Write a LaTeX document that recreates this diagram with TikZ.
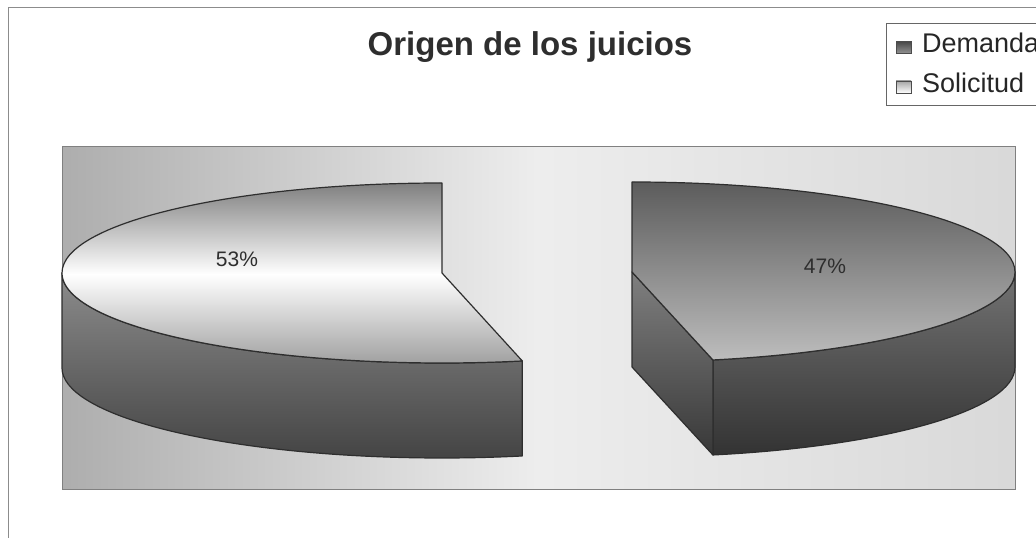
\documentclass[tikz,border=0pt]{standalone}
\usepackage{fontspec}
\setmainfont{Liberation Sans}
\usetikzlibrary{positioning}

\begin{document}
\begin{tikzpicture}[
		x=1pt, y=1pt,
		edge/.style={draw=black!82, line width=1.2pt, line join=round},
		frame/.style={draw=black!45, line width=1pt},
		pct/.style={font=\fontsize{21}{21}\selectfont, text=black!82, inner sep=0pt, anchor=base},
		lgd/.style={font=\fontsize{27}{27}\selectfont, text=black!85, inner sep=0pt, anchor=base west},
		keybox/.style={draw=black!70, line width=0.8pt, minimum width=15pt, minimum height=12pt, inner sep=0pt}
	]
	\useasboundingbox (0,0) rectangle (1036,538);
	\draw[frame] (8,-20) |- (1060,530);
	\node[font=\bfseries\fontsize{33}{33}\selectfont, text=black!82, inner sep=0pt, anchor=base] (title) at (530,482) {Origen de los juicios};

	\path[draw=black!50, line width=1pt, left color=black!32, right color=black!15, middle color=black!7] (62,48) rectangle (1015,391);

	\coordinate (c1) at (442,265);
	\coordinate (c2) at (632,266);

	\path[edge, top color=black!45, bottom color=black!74] (c1) ++(180:380 and 90)
		arc[start angle=180, end angle=282.2, x radius=380, y radius=90] -- ++(0,-95)
		arc[start angle=282.2, end angle=180, x radius=380, y radius=90] -- cycle;
	\path[edge, top color=black!50, bottom color=black!38, middle color=white] (c1) -- ++(90:380 and 90)
		arc[start angle=90, end angle=282.2, x radius=380, y radius=90] -- cycle;

	\path[edge, top color=black!55, bottom color=black!80] (c2) ++(-77.8:383 and 90)
		arc[start angle=-77.8, end angle=0, x radius=383, y radius=90] -- ++(0,-95)
		arc[start angle=0, end angle=-77.8, x radius=383, y radius=90] -- cycle;
	\path[edge, top color=black!50, bottom color=black!78] (c2) -- ++(0,-95)
		-- ++(-77.8:383 and 90) -- ++(0,95) -- cycle;
	\path[edge, top color=black!64, bottom color=black!26] (c2) -- ++(90:383 and 90)
		arc[start angle=90, end angle=-77.8, x radius=383, y radius=90] -- cycle;

	\node[pct] (solpct) at (237,271) {53\%};
	\node[pct] (dempct) at (825,264) {47\%};

	\draw[draw=black!60, fill=white, line width=1pt] (886,514) rectangle (1060,432);
	\node[keybox, top color=black!72, bottom color=black!42] (demkey) at (903.5,490.5) {};
	\node[keybox, top color=black!35, bottom color=white] (solkey) at (903.5,451) {};
	\node[lgd] (dem) at (922,485) {Demanda};
	\node[lgd] (sol) at (922,445) {Solicitud};
\end{tikzpicture}
\end{document}
